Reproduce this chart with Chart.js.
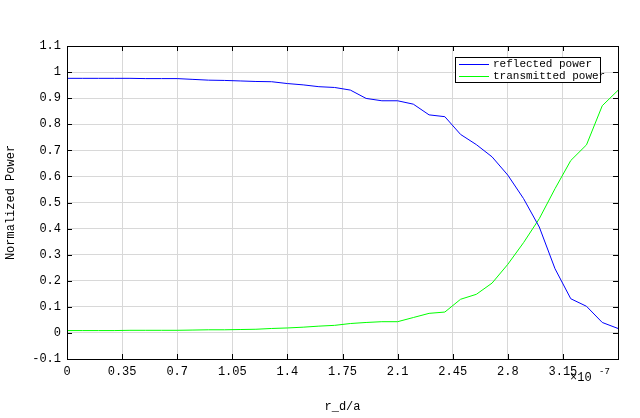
<!DOCTYPE html>
<html><head><script src="https://cdn.jsdelivr.net/npm/chart.js@4/dist/chart.umd.min.js"></script>
<style>body{margin:0;background:#fff}#w{width:640px;height:418px}</style></head>
<body><div id="w"><canvas id="c"></canvas></div>
<script>
const xVals=[0,0.1,0.2,0.3,0.4,0.5,0.6,0.7,0.8,0.9,1.0,1.1,1.2,1.3,1.4,1.5,1.6,1.7,1.8,1.9,2.0,2.1,2.2,2.3,2.4,2.5,2.6,2.7,2.8,2.9,3.0,3.1,3.2,3.3,3.4,3.5];
const reflected=[0.976,0.976,0.976,0.976,0.976,0.975,0.975,0.975,0.972,0.969,0.968,0.966,0.964,0.963,0.956,0.951,0.944,0.941,0.931,0.899,0.890,0.890,0.877,0.836,0.829,0.761,0.722,0.675,0.605,0.515,0.406,0.246,0.131,0.102,0.040,0.017];
const transmitted=[0.009,0.009,0.009,0.009,0.010,0.010,0.010,0.010,0.011,0.012,0.012,0.013,0.014,0.017,0.019,0.022,0.026,0.029,0.036,0.040,0.043,0.043,0.059,0.075,0.080,0.129,0.148,0.191,0.263,0.346,0.438,0.553,0.661,0.721,0.871,0.930];
const xTicks=[0,0.35,0.7,1.05,1.4,1.75,2.1,2.45,2.8,3.15];
const F='"Liberation Mono", monospace';
const pts=a=>a.map((v,i)=>({x:xVals[i],y:v}));
const deco={id:'deco',afterDraw(ch){const c=ch.ctx,a=ch.chartArea;c.save();
c.strokeStyle='#000';c.lineWidth=1;c.strokeRect(a.left+0.5,a.top+0.5,a.right-a.left,a.bottom-a.top);
const xs=ch.scales.x,ys=ch.scales.y;c.beginPath();
xTicks.forEach(t=>{const p=Math.round(xs.getPixelForValue(t))+0.5;c.moveTo(p,a.top);c.lineTo(p,a.top+5);c.moveTo(p,a.bottom);c.lineTo(p,a.bottom-5);});
for(let i=-1;i<=11;i++){const p=Math.round(ys.getPixelForValue(i/10))+0.5;c.moveTo(a.left,p);c.lineTo(a.left+5,p);c.moveTo(a.right,p);c.lineTo(a.right-5,p);}
c.stroke();
c.fillStyle='#fff';c.fillRect(455,57,146,26);c.strokeRect(455.5,57.5,145,25);
c.font='11px '+F;c.fillStyle='#000';c.textBaseline='middle';
c.strokeStyle='#0000ff';c.beginPath();c.moveTo(459,64.5);c.lineTo(489,64.5);c.stroke();
c.strokeStyle='#00ff00';c.beginPath();c.moveTo(459,76.5);c.lineTo(489,76.5);c.stroke();
c.fillText('reflected power',493,64);c.fillText('transmitted power',493,76);
c.font='12px '+F;c.fillText('×10',570,378);c.font='9px '+F;c.fillText('-7',599,372);
c.restore();}};
new Chart(document.getElementById('c'),{type:'line',
data:{datasets:[{data:pts(reflected),borderColor:'#0000ff',borderWidth:1,pointRadius:0,tension:0},
{data:pts(transmitted),borderColor:'#00ff00',borderWidth:1,pointRadius:0,tension:0}]},
options:{responsive:true,maintainAspectRatio:false,animation:false,
layout:{padding:{left:0,top:46,right:22,bottom:0}},
plugins:{legend:{display:false},tooltip:{enabled:false}},
scales:{x:{type:'linear',min:0,max:3.5,afterBuildTicks:s=>{s.ticks=xTicks.map(v=>({value:v}));},
afterFit:s=>{s.height=59;},
grid:{color:'#d8d8d8',drawTicks:false},border:{display:false},
ticks:{color:'#000',font:{family:F,size:12},padding:6,maxRotation:0,callback:v=>String(+v.toFixed(2))},
title:{display:true,text:'r_d/a',color:'#000',font:{family:F,size:12},padding:{top:4}}},
y:{min:-0.1,max:1.1,afterFit:s=>{s.width=67;},
grid:{color:'#d8d8d8',drawTicks:false},border:{display:false},
ticks:{stepSize:0.1,color:'#000',font:{family:F,size:12},padding:6,callback:v=>String(+v.toFixed(1))},
title:{display:true,text:'Normalized Power',color:'#000',font:{family:F,size:12},padding:{bottom:4}}}}},
plugins:[deco]});
</script></body></html>
